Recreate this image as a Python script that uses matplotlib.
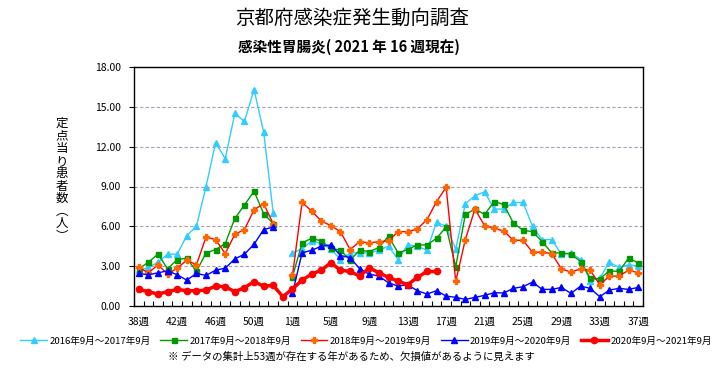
import numpy as np
import matplotlib.pyplot as plt

plt.rcParams["font.family"] = ["Noto Sans CJK JP", "DejaVu Sans"]
plt.rcParams["font.size"] = 7.5

nan = np.nan

# week numbers on the category axis (53 slots: 38..53, 1..37)
weeks = list(range(38, 54)) + list(range(1, 38))

# patients per sentinel site
s2016 = [2.7, 2.9, 3.3, 3.9, 3.9, 5.3, 6.0, 9.0, 12.3, 11.1, 14.5, 13.9, 16.3, 13.1, 7.0, nan,
         4.0, 4.3, 4.9, 4.7, 4.3, 3.5, 4.0, 4.0, 4.0, 4.2, 4.5, 3.5, 4.6, 4.5, 4.2, 6.3,
         6.0, 4.3, 7.7, 8.3, 8.6, 7.3, 7.3, 7.8, 7.8, 6.0, 5.0, 5.0, 3.9, 4.0, 3.5, 1.9,
         2.1, 3.3, 2.9, 3.1, 3.0]
s2017 = [2.8, 3.3, 3.9, 2.8, 3.5, 3.6, 2.6, 4.0, 4.25, 4.7, 6.6, 7.6, 8.65, 6.95, 6.2, nan,
         2.2, 4.75, 5.1, 4.9, 4.35, 4.2, 3.45, 4.2, 4.1, 4.4, 5.25, 4.0, 4.25, 4.6, 4.6, 5.1,
         5.95, 2.95, 6.9, 7.3, 6.9, 7.85, 7.65, 6.25, 5.7, 5.6, 4.85, 4.0, 4.0, 3.9, 3.35, 2.1,
         2.05, 2.65, 2.6, 3.6, 3.25]
s2018 = [2.9, 2.5, 3.1, 2.4, 2.85, 3.45, 3.1, 5.2, 5.0, 3.95, 5.4, 5.75, 7.25, 7.7, 6.2, nan,
         2.3, 7.8, 7.15, 6.4, 6.05, 5.6, 4.25, 4.85, 4.75, 4.85, 4.9, 5.6, 5.6, 5.8, 6.5, 7.85,
         8.95, 1.85, 5.0, 7.3, 6.05, 5.85, 5.65, 4.95, 4.95, 4.05, 4.05, 3.95, 2.8, 2.55, 2.8, 2.7,
         1.6, 2.25, 2.25, 2.7, 2.5]
s2019 = [2.45, 2.35, 2.5, 2.65, 2.35, 1.95, 2.45, 2.3, 2.7, 2.85, 3.55, 3.9, 4.65, 5.75, 5.95, nan,
         0.95, 4.0, 4.2, 4.5, 4.6, 3.8, 3.65, 2.8, 2.4, 2.25, 1.75, 1.5, 1.6, 1.15, 0.9, 1.15,
         0.75, 0.65, 0.5, 0.65, 0.8, 1.0, 0.98, 1.33, 1.45, 1.8, 1.25, 1.25, 1.4, 0.95, 1.5, 1.33,
         0.7, 1.2, 1.33, 1.25, 1.4]
s2020 = [1.25, 1.08, 0.9, 1.08, 1.25, 1.15, 1.15, 1.2, 1.5, 1.45, 1.08, 1.38, 1.83, 1.5, 1.55, 0.7,
         1.28, 1.95, 2.4, 2.7, 3.25, 2.7, 2.6, 2.25, 2.88, 2.5, 2.15, 1.88, 1.6, 2.15, 2.6, 2.6]
s2020 = s2020 + [nan] * (len(weeks) - len(s2020))

labels = ["2016年9月～2017年9月", "2017年9月～2018年9月", "2018年9月～2019年9月",
          "2019年9月～2020年9月", "2020年9月～2021年9月"]

x = np.arange(len(weeks))

fig = plt.figure(figsize=(7.21, 3.79), dpi=100, facecolor="w")
ax = fig.add_axes([134 / 721, 1 - 306 / 379, (643 - 134) / 721, (306 - 67) / 379])

ax.plot(x, s2016, color="#33ccff", lw=1, marker="^", ms=4, label=labels[0])
ax.plot(x, s2017, color="#009900", lw=1, marker="s", ms=3.6, label=labels[1])
ax.plot(x, s2018, color="#ff0000", lw=1, marker="P", ms=4, mfc="#ff6600", mec="#ff6600", label=labels[2])
ax.plot(x, s2019, color="#0000ff", lw=1, marker="^", ms=4, label=labels[3])
ax.plot(x, s2020, color="#ff0000", lw=2.5, marker="o", ms=4.5, label=labels[4])

ax.set_xlim(-0.5, len(weeks) - 0.5)
ax.set_xticks(x[::4])
ax.set_xticklabels([f"{w}週" for w in weeks[::4]])
ax.set_xticks(np.arange(-0.5, len(weeks), 1), minor=True)
ax.tick_params(axis="x", which="major", length=0, pad=8)
ax.tick_params(axis="x", which="minor", direction="in", length=3.5, width=0.8)

ax.set_ylim(0, 18)
ax.set_yticks(np.arange(0, 19, 3))
ax.set_yticklabels([f"{v:.2f}" for v in np.arange(0, 19, 3)])
ax.tick_params(axis="y", direction="out", length=3.5, width=0.8, pad=6)
ax.grid(axis="y", linestyle=(0, (3, 2)), color="#a89cb8", lw=0.8)
ax.set_axisbelow(True)
for sp in ax.spines.values():
    sp.set_linewidth(1)

fig.text(62 / 721, 1 - 180 / 379, "\n".join("定点当り患者数︵人︶"),
         ha="center", va="center", fontsize=9, linespacing=0.95)

fig.text(352 / 721, 1 - 18 / 379, "京都府感染症発生動向調査", ha="center", va="center", fontsize=14)
fig.text(349 / 721, 1 - 47 / 379, "感染性胃腸炎( 2021 年 16 週現在)", ha="center", va="center",
         fontsize=10.5, weight="bold")

fig.legend(loc="center", bbox_to_anchor=(366 / 721, 1 - 341 / 379), ncol=5, frameon=False,
           handlelength=2.8, columnspacing=1.0, handletextpad=0.25, fontsize=6.9)
fig.text(351 / 721, 1 - 357 / 379, "※ データの集計上53週が存在する年があるため、欠損値があるように見えます",
         ha="center", va="center", fontsize=7.5)

plt.savefig("out.png", dpi=100)
